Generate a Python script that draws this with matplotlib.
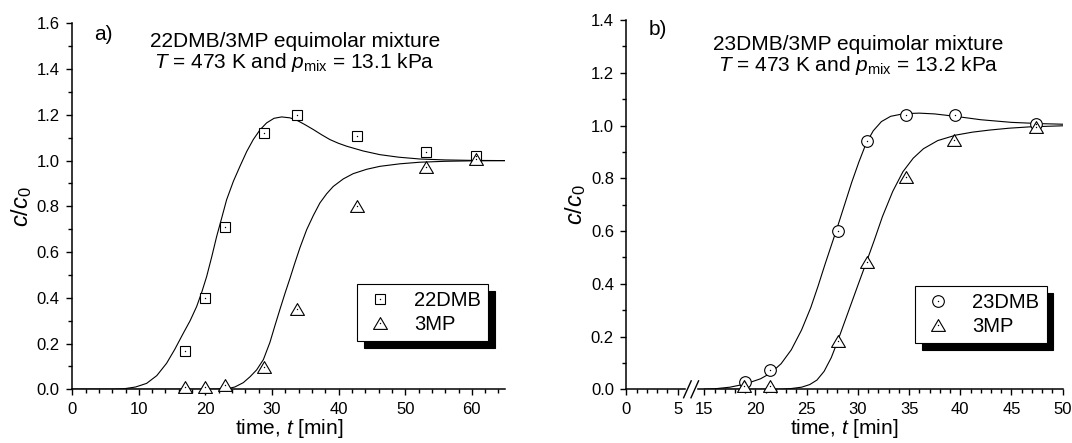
import numpy as np
import matplotlib
matplotlib.use("Agg")
import matplotlib.pyplot as plt
from matplotlib.path import Path
from matplotlib.patches import Shadow
from matplotlib.legend_handler import HandlerTuple
from matplotlib.ticker import FixedLocator, FixedFormatter, MultipleLocator

plt.rcParams['font.family'] = ['Liberation Sans', 'DejaVu Sans']
plt.rcParams['mathtext.fontset'] = 'custom'
plt.rcParams['mathtext.rm'] = 'Liberation Sans'
plt.rcParams['mathtext.it'] = 'Liberation Sans:italic'

# ---------------- Data: panel a) 22DMB/3MP ----------------
a_t_22dmb = [16.97, 19.92, 22.97, 28.74, 33.69, 42.75, 53.1, 60.7]
a_c_22dmb = [0.169, 0.398, 0.708, 1.119, 1.199, 1.109, 1.038, 1.02]
a_t_3mp = [16.97, 19.92, 22.97, 28.78, 33.7, 42.75, 53.1, 60.7]
a_c_3mp = [0.01, 0.01, 0.02, 0.099, 0.351, 0.80, 0.973, 1.006]

a_fit_t_22dmb = [0, 6.0, 7.66, 9.5, 11.17, 12.7, 14.17, 15.4, 16.67, 17.7, 18.68,
                 19.45, 20.18, 20.95, 21.68, 22.45, 23.18, 24.2, 25.18, 26.2,
                 27.18, 28.2, 29.19, 30.3, 31.44, 32.69, 33.69, 34.9, 36.19,
                 37.45, 38.69, 39.95, 41.2, 43.7, 46.2, 49.0, 52.2, 56.0, 60.0, 65.0]
a_fit_c_22dmb = [0.0, 0.0, 0.002, 0.01, 0.026, 0.06, 0.114, 0.175, 0.245, 0.30,
                 0.362, 0.425, 0.493, 0.58, 0.668, 0.75, 0.829, 0.91, 0.975, 1.04,
                 1.092, 1.135, 1.165, 1.185, 1.191, 1.187, 1.177, 1.158, 1.136,
                 1.113, 1.092, 1.076, 1.063, 1.042, 1.026, 1.015, 1.007, 1.003,
                 1.001, 1.0]
a_fit_t_3mp = [0, 20.0, 23.18, 24.4, 25.68, 26.7, 27.69, 28.7, 29.68, 30.45, 31.19,
               31.95, 32.69, 33.4, 34.2, 35.2, 36.2, 37.19, 38.2, 39.19, 40.7,
               42.19, 44.2, 46.2, 49.2, 52.2, 56.0, 60.0, 65.0]
a_fit_c_3mp = [0.0, 0.0, 0.002, 0.01, 0.029, 0.055, 0.085, 0.13, 0.205, 0.28,
               0.35, 0.42, 0.485, 0.55, 0.62, 0.698, 0.76, 0.815, 0.855, 0.887,
               0.92, 0.943, 0.962, 0.975, 0.986, 0.993, 0.997, 0.999, 1.0]

# ---------------- Data: panel b) 23DMB/3MP ----------------
b_t_23dmb = [18.99, 21.44, 28.04, 30.85, 34.68, 39.48, 47.35]
b_c_23dmb = [0.029, 0.073, 0.600, 0.941, 1.040, 1.040, 1.005]
b_t_3mp = [18.9, 21.44, 28.04, 30.85, 34.68, 39.4, 47.35]
b_c_3mp = [0.0125, 0.0125, 0.184, 0.484, 0.804, 0.945, 0.995]

b_fit_t_23dmb = [15.0, 16.0, 17.5, 19.0, 20.5, 21.5, 22.5, 23.5, 24.5, 25.4, 26.1,
                 26.8, 27.4, 28.0, 28.7, 29.4, 30.1, 30.8, 31.5, 32.3, 33.2, 34.5,
                 36.0, 37.5, 39.5, 42.0, 45.0, 48.0, 50.0]
b_fit_c_23dmb = [0.0, 0.002, 0.008, 0.02, 0.04, 0.062, 0.097, 0.15, 0.225, 0.31,
                 0.39, 0.475, 0.545, 0.615, 0.70, 0.785, 0.862, 0.932, 0.98, 1.015,
                 1.035, 1.045, 1.047, 1.044, 1.035, 1.022, 1.012, 1.007, 1.005]
b_fit_t_3mp = [15.0, 22.5, 23.5, 24.5, 25.3, 26.0, 26.7, 27.4, 28.0, 28.7, 29.4,
               30.1, 30.85, 31.6, 32.4, 33.4, 34.4, 35.4, 36.4, 37.8, 39.6, 41.2,
               42.9, 44.8, 46.8, 50.0]
b_fit_c_3mp = [0.0, 0.0, 0.003, 0.008, 0.018, 0.035, 0.068, 0.12, 0.18, 0.255,
               0.33, 0.405, 0.484, 0.565, 0.655, 0.75, 0.825, 0.876, 0.912, 0.943,
               0.964, 0.975, 0.983, 0.99, 0.995, 0.999]

a_xticks = [0, 10, 20, 30, 40, 50, 60]
b_xticks_low = [0, 5]
b_xticks_high = [15, 20, 25, 30, 35, 40, 45, 50]

# ---------------- Styling ----------------
TICK_FS = 12
TITLE_FS = 15
LEG_FS = 14.5
XLABEL_FS = 15
YLABEL_FS = 17

tri_path = Path([(0, 0.85), (-1, -0.85), (1, -0.85), (0, 0.85)],
                [Path.MOVETO, Path.LINETO, Path.LINETO, Path.CLOSEPOLY])

# broken axis for panel b: time -> axis coordinate
B_GAP = 2.6
def b_map(t):
    t = np.asarray(t, dtype=float)
    return np.where(t <= 5, t, t - 15 + 5 + B_GAP)

fig = plt.figure(figsize=(10.72, 4.43), dpi=100)
axA = fig.add_axes([0.0674, 0.1212, 0.4038, 0.8260])
axB = fig.add_axes([0.5844, 0.1212, 0.4069, 0.8336])

def style_axis(ax):
    for s in ['top', 'right']:
        ax.spines[s].set_visible(False)
    for s in ['left', 'bottom']:
        ax.spines[s].set_linewidth(1.1)
    ax.tick_params(which='major', direction='out', length=4.5, width=1.0,
                   labelsize=TICK_FS, pad=4.5)
    ax.tick_params(which='minor', direction='out', length=3, width=1.0)
    ax.yaxis.set_major_locator(MultipleLocator(0.2))
    ax.yaxis.set_minor_locator(MultipleLocator(0.1))
    ax.yaxis.set_major_formatter(matplotlib.ticker.FormatStrFormatter('%.1f'))
    ax.set_ylabel(r'$c/c_0$', fontsize=YLABEL_FS, labelpad=2)
    ax.set_xlabel(r'time, $t$ [min]', fontsize=XLABEL_FS, labelpad=0)

def draw_points(ax, x, y, marker, ms):
    h1, = ax.plot(x, y, linestyle='none', marker=marker, ms=ms, mfc='white',
                  mec='black', mew=0.8, zorder=4, clip_on=False)
    h2, = ax.plot(x, y, linestyle='none', marker='o', ms=1.0, mfc='black',
                  mec='black', mew=0, zorder=5, clip_on=False)
    return (h1, h2)

def add_legend(ax, handles, labels, anchor):
    leg = ax.legend(handles, labels, loc='upper right', bbox_to_anchor=anchor,
                    fontsize=LEG_FS, frameon=True, fancybox=False, shadow=False,
                    edgecolor='black', framealpha=1, borderpad=0.35,
                    handletextpad=0.9, handlelength=1.6, labelspacing=0.25,
                    borderaxespad=0,
                    handler_map={tuple: HandlerTuple(ndivide=1)})
    leg.get_frame().set_linewidth(0.8)
    leg.set_zorder(10)
    return leg

# ---------------- Panel a ----------------
style_axis(axA)
axA.set_xlim(0, 65)
axA.set_ylim(0, 1.6)
axA.xaxis.set_major_locator(FixedLocator(a_xticks))
axA.xaxis.set_minor_locator(MultipleLocator(2))
axA.plot(a_fit_t_22dmb, a_fit_c_22dmb, color='black', lw=0.8, zorder=3)
axA.plot(a_fit_t_3mp, a_fit_c_3mp, color='black', lw=0.8, zorder=3)
hA1 = draw_points(axA, a_t_22dmb, a_c_22dmb, 's', 7.2)
hA2 = draw_points(axA, a_t_3mp, a_c_3mp, tri_path, 10)
legA = add_legend(axA, [hA1, hA2], ['22DMB', '3MP'], (0.961, 0.287))
axA.text(0.05, 0.955, 'a)', transform=axA.transAxes, fontsize=TITLE_FS,
         ha='left', va='baseline')
axA.text(0.514, 0.936, '22DMB/3MP equimolar mixture', transform=axA.transAxes,
         fontsize=TITLE_FS, ha='center', va='baseline')
axA.text(0.514, 0.877, r'$T$ = 473 K and $p_{\mathregular{mix}}$ = 13.1 kPa',
         transform=axA.transAxes, fontsize=TITLE_FS, ha='center', va='baseline')

# ---------------- Panel b ----------------
style_axis(axB)
axB.set_xlim(0, float(b_map(50)))
axB.set_ylim(0, 1.4)
major_pos = list(b_map(b_xticks_low)) + list(b_map(b_xticks_high))
major_lab = [str(v) for v in b_xticks_low + b_xticks_high]
axB.xaxis.set_major_locator(FixedLocator(major_pos))
axB.xaxis.set_major_formatter(FixedFormatter(major_lab))
minor_t = [v for v in range(1, 5)] + [v for v in range(16, 50) if v % 5 != 0]
axB.xaxis.set_minor_locator(FixedLocator(list(b_map(minor_t))))
axB.plot(b_map(b_fit_t_23dmb), b_fit_c_23dmb, color='black', lw=0.8, zorder=3)
axB.plot(b_map(b_fit_t_3mp), b_fit_c_3mp, color='black', lw=0.8, zorder=3)
hB1 = draw_points(axB, b_map(b_t_23dmb), b_c_23dmb, 'o', 8.4)
hB2 = draw_points(axB, b_map(b_t_3mp), b_c_3mp, tri_path, 10)
legB = add_legend(axB, [hB1, hB2], ['23DMB', '3MP'], (0.963, 0.280))
axB.text(0.052, 0.959, 'b)', transform=axB.transAxes, fontsize=TITLE_FS,
         ha='left', va='baseline')
axB.text(0.531, 0.920, '23DMB/3MP equimolar mixture', transform=axB.transAxes,
         fontsize=TITLE_FS, ha='center', va='baseline')
axB.text(0.531, 0.861, r'$T$ = 473 K and $p_{\mathregular{mix}}$ = 13.2 kPa',
         transform=axB.transAxes, fontsize=TITLE_FS, ha='center', va='baseline')

# axis break marks "//"
axB.plot([5.95, 6.67], [0.0, 0.0], color='white', lw=2.5, clip_on=False, zorder=6)
for xc in (5.95, 6.67):
    axB.plot([xc - 0.37, xc + 0.37], [-0.032, 0.032], color='black', lw=1.0,
             clip_on=False, zorder=7)

# legend shadows (solid black, offset lower-right)
fig.canvas.draw()
for ax, leg in ((axA, legA), (axB, legB)):
    sh = Shadow(leg.legendPatch, 4.8, -4.8, facecolor='black', edgecolor='black',
                alpha=1)
    sh.set_zorder(9)
    sh.set_clip_on(False)
    ax.add_artist(sh)

fig.savefig('out.png', dpi=100)
